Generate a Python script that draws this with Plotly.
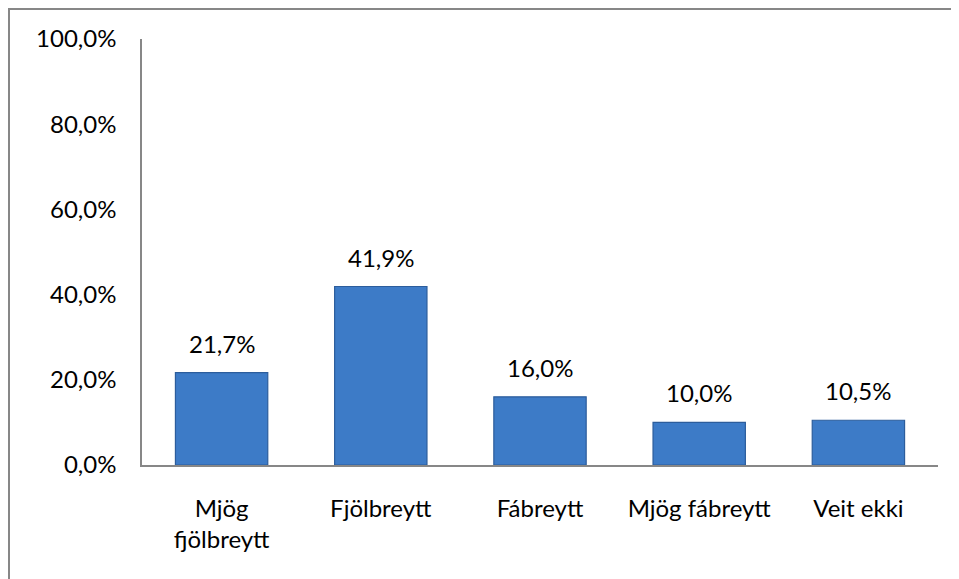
import plotly.graph_objects as go

categories = ["Mjög<br>fjölbreytt", "Fjölbreytt", "Fábreytt", "Mjög fábreytt", "Veit ekki"]
values = [21.7, 41.9, 16.0, 10.0, 10.5]
y_ticks = [0, 20, 40, 60, 80, 100]
y_tick_labels = ["0,0%", "20,0%", "40,0%", "60,0%", "80,0%", "100,0%"]
value_labels = [f"{v:.1f}%".replace(".", ",") for v in values]

FONT = "Lato"
FS = 24
# page body has an 8px default margin, so the figure is sized to fit inside it
W, H = 951, 571
L, R, T, B = 134, 21, 31, 114

fig = go.Figure()
fig.add_trace(go.Bar(
    x=categories, y=values,
    marker=dict(color="#3d7bc7", line=dict(color="#2c5d9c", width=1.2)),
    width=0.58,
    hoverinfo="skip",
))

for c, v, t in zip(categories, values, value_labels):
    fig.add_annotation(x=c, y=v, text=t, showarrow=False, yanchor="bottom",
                       yshift=13, font=dict(family=FONT, size=FS, color="#000000"))

pw = W - L - R
ph = H - T - B
fig.add_shape(type="rect", xref="paper", yref="paper",
              x0=(1 - L) / pw, x1=(W + 20 - L) / pw,
              y0=-(H + 20 - T - ph) / ph, y1=(ph + T - 1) / ph,
              line=dict(color="#878787", width=2), layer="below")

fig.update_layout(
    width=W, height=H,
    margin=dict(l=L, r=R, t=T, b=B),
    paper_bgcolor="white", plot_bgcolor="white",
    showlegend=False,
    font=dict(family=FONT, size=FS, color="#000000"),
    xaxis=dict(showline=True, linecolor="#878787", linewidth=1.5,
               ticks="", showgrid=False, ticklabelstandoff=21,
               tickfont=dict(family=FONT, size=FS, color="#000000")),
    yaxis=dict(range=[0, 100], tickvals=y_ticks, ticktext=y_tick_labels,
               showline=True, linecolor="#878787", linewidth=1.5,
               ticks="", showgrid=False, zeroline=False, ticklabelstandoff=19,
               tickfont=dict(family=FONT, size=FS, color="#000000")),
)

fig.write_html("out.html")
